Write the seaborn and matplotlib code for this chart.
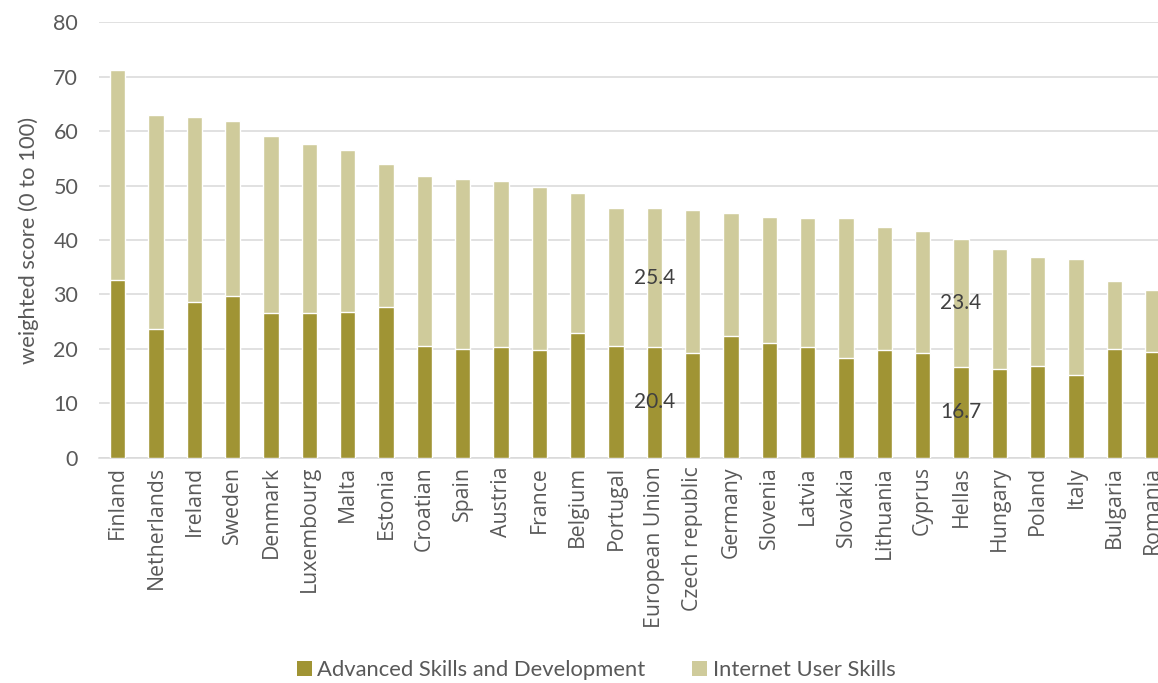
import matplotlib
matplotlib.use("Agg")
import matplotlib.pyplot as plt
import seaborn as sns
import pandas as pd
from matplotlib.patches import Patch

countries = ["Finland", "Netherlands", "Ireland", "Sweden", "Denmark", "Luxembourg",
             "Malta", "Estonia", "Croatian", "Spain", "Austria", "France", "Belgium",
             "Portugal", "European Union", "Czech republic", "Germany", "Slovenia",
             "Latvia", "Slovakia", "Lithuania", "Cyprus", "Hellas", "Hungary", "Poland",
             "Italy", "Bulgaria", "Romania"]
advanced = [32.7, 23.7, 28.6, 29.8, 26.5, 26.5, 26.7, 27.6, 20.6, 19.9, 20.3, 19.8, 23.0,
            20.5, 20.4, 19.2, 22.4, 21.1, 20.3, 18.4, 19.7, 19.3, 16.7, 16.3, 16.8,
            15.2, 20.0, 19.4]
internet = [38.6, 39.3, 34.0, 32.1, 32.6, 31.2, 29.8, 26.3, 31.2, 31.3, 30.5, 29.9, 25.6,
            25.4, 25.4, 26.3, 22.5, 23.1, 23.7, 25.6, 22.6, 22.4, 23.4, 22.0, 20.1,
            21.3, 12.5, 11.4]
labelled = ["European Union", "Hellas"]
series_names = ["Advanced Skills and Development", "Internet User Skills"]

DARK = "#A09434"
LIGHT = "#CFCB9B"
TXT = "#595959"

sns.set_style("white")
plt.rcParams["font.family"] = ["Lato", "DejaVu Sans"]

df = pd.DataFrame({"country": countries, "adv": advanced, "inet": internet})
df["total"] = df["adv"] + df["inet"]

fig = plt.figure(figsize=(11.58, 6.83), dpi=100)
ax = fig.add_axes([99 / 1158, 1 - 457.7 / 683, 1 - 99 / 1158, (457.7 - 22.3) / 683])

sns.barplot(data=df, x="country", y="total", color=LIGHT, saturation=1, width=0.4,
            ax=ax, zorder=2)
sns.barplot(data=df, x="country", y="adv", color=DARK, saturation=1, width=0.4,
            ax=ax, zorder=3)

ax.set_ylim(0, 80)
ax.set_xlim(-0.49, 27.14)
ax.set_yticks(range(0, 81, 10))
ax.yaxis.grid(True, color="#d9d9d9", linewidth=1.1, zorder=0)
ax.set_axisbelow(True)
for s in ["top", "right", "left"]:
    ax.spines[s].set_visible(False)
ax.spines["bottom"].set_color("#d9d9d9")
ax.spines["bottom"].set_linewidth(1.1)
ax.tick_params(axis="y", length=0, pad=15, labelsize=15.5, labelcolor=TXT)
ax.tick_params(axis="x", length=0, pad=6)
ax.set_xticks(range(len(countries)))
ax.set_xticklabels(countries, rotation=90, fontfamily=["Open Sans", "DejaVu Sans"],
                   fontsize=15.3, color=TXT, va="top", ha="center")
ax.set_xlabel("")
ax.set_ylabel("weighted score (0 to 100)", fontsize=15.8, color=TXT, labelpad=10)

for name in labelled:
    i = countries.index(name)
    a = advanced[i]
    b = internet[i]
    ax.text(i, a / 2, f"{a:.1f}", ha="center", va="center", fontsize=15, color="#404040", zorder=5)
    ax.text(i, a + b / 2, f"{b:.1f}", ha="center", va="center", fontsize=15, color="#404040", zorder=5)

handles = [Patch(facecolor=DARK, edgecolor="none"), Patch(facecolor=LIGHT, edgecolor="none")]
leg = fig.legend(handles, series_names, loc="center", bbox_to_anchor=(596 / 1158, 1 - 670 / 683),
                 ncol=2, frameon=False, fontsize=15.8, handlelength=0.7, handleheight=0.7,
                 handletextpad=0.25, columnspacing=2.1)
for t in leg.get_texts():
    t.set_color(TXT)

fig.savefig("out.png", dpi=100)
